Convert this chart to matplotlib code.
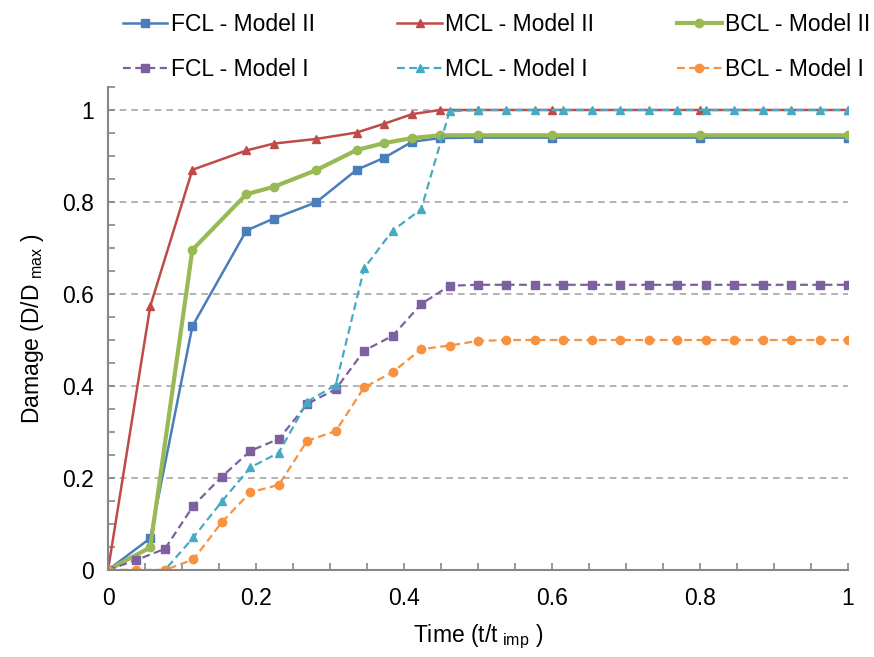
"""Damage evolution over normalised time for three CL cases, Model I vs Model II."""

import matplotlib

matplotlib.use("Agg")

import matplotlib.pyplot as plt  # noqa: E402
from matplotlib.ticker import MultipleLocator  # noqa: E402

# Model II results (irregular time steps)
t_model2 = [0.0, 0.057, 0.114, 0.187, 0.224, 0.281, 0.336, 0.373, 0.411, 0.449, 0.5, 0.6, 0.8, 1.0]
fcl_model2 = [0.0, 0.069, 0.530, 0.738, 0.764, 0.799, 0.870, 0.896, 0.931, 0.939, 0.94, 0.94, 0.94, 0.94]
mcl_model2 = [0.0, 0.573, 0.870, 0.912, 0.927, 0.937, 0.951, 0.970, 0.991, 1.0, 1.0, 1.0, 1.0, 1.0]
bcl_model2 = [0.0, 0.049, 0.696, 0.817, 0.833, 0.869, 0.913, 0.928, 0.939, 0.945, 0.945, 0.945, 0.945, 0.945]

# Model I results (27 equal steps)
t_model1 = [k / 26 for k in range(27)]
fcl_model1 = [0.0, 0.022, 0.046, 0.140, 0.203, 0.259, 0.285, 0.361, 0.393, 0.477, 0.509, 0.578, 0.618,
              0.62, 0.62, 0.62, 0.62, 0.62, 0.62, 0.62, 0.62, 0.62, 0.62, 0.62, 0.62, 0.62, 0.62]
mcl_model1 = [0.0, 0.0, 0.0, 0.071, 0.149, 0.223, 0.255, 0.366, 0.402, 0.656, 0.738, 0.784, 0.997,
              1.0, 1.0, 1.0, 1.0, 1.0, 1.0, 1.0, 1.0, 1.0, 1.0, 1.0, 1.0, 1.0, 1.0]
bcl_model1 = [0.0, 0.0, 0.0, 0.023, 0.104, 0.169, 0.185, 0.281, 0.302, 0.397, 0.430, 0.480, 0.488,
              0.498, 0.5, 0.5, 0.5, 0.5, 0.5, 0.5, 0.5, 0.5, 0.5, 0.5, 0.5, 0.5, 0.5]

tick_values = [0, 0.2, 0.4, 0.6, 0.8, 1.0]
tick_labels = ["0", "0.2", "0.4", "0.6", "0.8", "1"]

plt.rcParams["font.family"] = ["Liberation Sans", "DejaVu Sans"]
plt.rcParams["mathtext.default"] = "regular"

FS = 16.5

fig = plt.figure(figsize=(8.74, 6.57), dpi=100)
ax = fig.add_axes([0.1236, 0.1324, 0.8467, 0.7352])

# colours close to the Excel 2007 palette
solid = dict(linestyle="-", markersize=6)
dashed = dict(linestyle=(0, (3.5, 2)), linewidth=1.6, markersize=6)

h_fcl2, = ax.plot(t_model2, fcl_model2, color="#4A7EBB", marker="s", linewidth=1.8, label="FCL - Model II", **solid)
h_mcl2, = ax.plot(t_model2, mcl_model2, color="#BE4B48", marker="^", linewidth=1.8, label="MCL - Model II", **solid)
h_bcl2, = ax.plot(t_model2, bcl_model2, color="#98B954", marker="o", linewidth=3.0, label="BCL - Model II", **solid)
h_fcl1, = ax.plot(t_model1, fcl_model1, color="#7D60A0", marker="s", label="FCL - Model I", **dashed)
h_mcl1, = ax.plot(t_model1, mcl_model1, color="#46AAC5", marker="^", label="MCL - Model I", **dashed)
h_bcl1, = ax.plot(t_model1, bcl_model1, color="#F69240", marker="o", label="BCL - Model I", **dashed)

ax.set_xlim(0, 1)
ax.set_ylim(0, 1.05)
ax.set_xticks(tick_values)
ax.set_xticklabels(tick_labels)
ax.set_yticks(tick_values)
ax.set_yticklabels(tick_labels)
ax.xaxis.set_minor_locator(MultipleLocator(0.05))
ax.yaxis.set_minor_locator(MultipleLocator(0.05))

for gy in tick_values[1:]:
    ax.axhline(gy, color="#A6A6A6", linewidth=1.2, linestyle=(0, (4, 3)), zorder=0)

for side in ["top", "right"]:
    ax.spines[side].set_visible(False)
for side in ["left", "bottom"]:
    ax.spines[side].set_color("#868686")
    ax.spines[side].set_linewidth(1.5)

ax.tick_params(which="both", direction="in", length=5, width=1.2, color="#868686", labelsize=FS)
ax.tick_params(axis="y", which="both", pad=10)
ax.tick_params(axis="x", which="both", pad=12)

ax.set_xlabel(r"Time (t/t$_{\ imp}$ )", fontsize=FS, labelpad=9)
ax.set_ylabel(r"Damage (D/D$_{\ max}$ )", fontsize=FS, labelpad=12)

handles = [h_fcl2, h_fcl1, h_mcl2, h_mcl1, h_bcl2, h_bcl1]
fig.legend(
    handles=handles,
    labels=[h.get_label() for h in handles],
    ncol=3,
    loc="upper left",
    bbox_to_anchor=(0.1404, 0.98),
    borderaxespad=0,
    borderpad=0,
    frameon=False,
    fontsize=FS,
    handlelength=1.95,
    handletextpad=0.15,
    columnspacing=3.6,
    labelspacing=0.95,
)

fig.savefig("out.png", dpi=100)
